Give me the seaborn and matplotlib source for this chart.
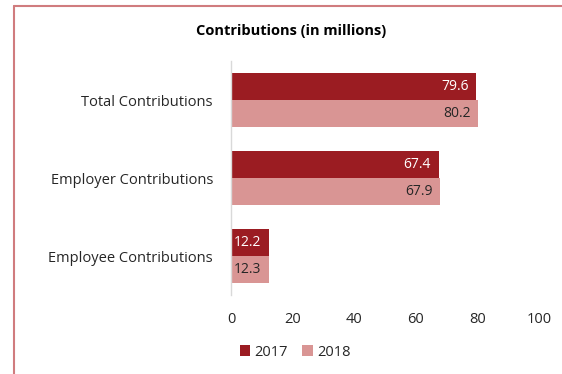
import matplotlib
matplotlib.use("Agg")
import matplotlib.pyplot as plt
from matplotlib.lines import Line2D
from matplotlib.patches import Patch
import seaborn as sns
import pandas as pd

categories = ["Total Contributions", "Employer Contributions", "Employee Contributions"]
years = ["2017", "2018"]
values_2017 = [79.6, 67.4, 12.2]
values_2018 = [80.2, 67.9, 12.3]
x_ticks = [0, 20, 40, 60, 80, 100]

colors = {"2017": "#9B1C22", "2018": "#D99594"}
label_colors = {"2017": "white", "2018": "#262626"}

df = pd.DataFrame({
    "Category": categories * 2,
    "Year": [years[0]] * 3 + [years[1]] * 3,
    "Value": values_2017 + values_2018,
})

sns.set_theme(style="white")
plt.rcParams["font.family"] = ["Open Sans", "DejaVu Sans"]

fig = plt.figure(figsize=(5.62, 3.74), dpi=100)
ax = fig.add_axes([231 / 562, 1 - 295 / 374, (539 - 231) / 562, 234 / 374])

sns.barplot(data=df, y="Category", x="Value", hue="Year", order=categories,
            hue_order=years, palette=colors, orient="h", width=0.69,
            saturation=1, linewidth=0, ax=ax, legend=False)

for container, year in zip(ax.containers, years):
    ax.bar_label(container, labels=[f"{v:.1f}" for v in container.datavalues],
                 padding=-5.5, color=label_colors[year], fontsize=10, label_type="edge")
    for t in ax.texts[-len(container):]:
        t.set_horizontalalignment("right")

ax.set_xlim(0, 100)
ax.set_ylim(2.5, -0.5)
ax.set_xticks(x_ticks)
ax.set_xticklabels([str(t) for t in x_ticks], fontsize=10.5, color="#262626")
ax.tick_params(axis="y", labelsize=10.5, colors="#262626", length=0, pad=13)
ax.tick_params(axis="x", length=0, pad=12)
ax.set_xlabel("")
ax.set_ylabel("")
for side in ["top", "right", "bottom"]:
    ax.spines[side].set_visible(False)
ax.spines["left"].set_color("#D9D9D9")
ax.spines["left"].set_linewidth(1)

fig.text(291 / 562, 1 - 31 / 374, "Contributions (in millions)", ha="center",
         va="center", fontsize=10.5, fontweight="bold", color="black")

handles = [Patch(facecolor=colors[y], edgecolor="none", label=y) for y in years]
fig.legend(handles=handles, loc="center", bbox_to_anchor=(295 / 562, 1 - 352 / 374),
           ncol=2, frameon=False, fontsize=10.5, handlelength=0.7, handleheight=0.7,
           handletextpad=0.3, columnspacing=1.0, labelcolor="#262626")

# frame lines along the top and left edges
fig.add_artist(Line2D([13.5 / 562, 13.5 / 562], [0, 1 - 5.5 / 374],
                      transform=fig.transFigure, color="#D07C7E", linewidth=1.5))
fig.add_artist(Line2D([13.5 / 562, 1], [1 - 5.5 / 374, 1 - 5.5 / 374],
                      transform=fig.transFigure, color="#D07C7E", linewidth=1.5))

fig.savefig("out.png", dpi=100)
